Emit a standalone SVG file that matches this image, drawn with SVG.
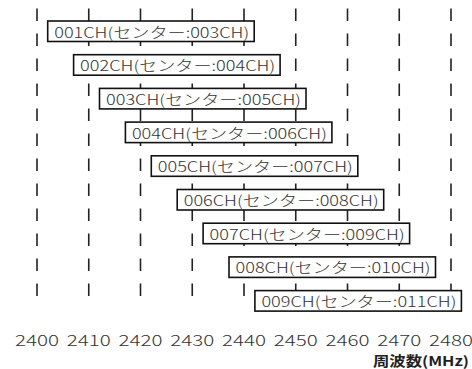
<svg xmlns="http://www.w3.org/2000/svg" width="472" height="369" viewBox="0 0 472 369">
<style>
.grid line{stroke:#222;stroke-width:1.6;stroke-dasharray:12.5 12.5}
.box rect{fill:#fff;stroke:#111;stroke-width:1.6}
.box text{font-family:"Noto Sans CJK JP","Noto Sans",sans-serif;font-size:14.5px;font-weight:300;fill:#333}
.ax{font-family:"Noto Sans CJK JP","Noto Sans",sans-serif;font-size:15.5px;font-weight:300;fill:#333;text-anchor:middle}
.unit{font-family:"Noto Sans CJK JP","Noto Sans",sans-serif;font-size:13.5px;font-weight:bold;fill:#222}
</style>
<rect width="472" height="369" fill="#fff"/>
<g id="connectors" class="grid">
<line x1="37" y1="8.5" x2="37" y2="297"/>
<line x1="88.75" y1="8.5" x2="88.75" y2="297"/>
<line x1="140.5" y1="8.5" x2="140.5" y2="297"/>
<line x1="192.25" y1="8.5" x2="192.25" y2="297"/>
<line x1="244" y1="8.5" x2="244" y2="297"/>
<line x1="295.75" y1="8.5" x2="295.75" y2="297"/>
<line x1="347.5" y1="8.5" x2="347.5" y2="297"/>
<line x1="399.25" y1="8.5" x2="399.25" y2="297"/>
<line x1="451" y1="8.5" x2="451" y2="297"/>
</g>
<g id="ch001" class="box"><rect x="47.7" y="21" width="206.5" height="20.5"/><text x="54.2" y="37.5" textLength="195" lengthAdjust="spacingAndGlyphs">001CH(センター:003CH)</text></g>
<g id="ch002" class="box"><rect x="73.6" y="54.7" width="206.5" height="20.5"/><text x="80.1" y="71.2" textLength="195" lengthAdjust="spacingAndGlyphs">002CH(センター:004CH)</text></g>
<g id="ch003" class="box"><rect x="99.5" y="88.4" width="206.5" height="20.5"/><text x="106" y="104.9" textLength="195" lengthAdjust="spacingAndGlyphs">003CH(センター:005CH)</text></g>
<g id="ch004" class="box"><rect x="125.4" y="122.1" width="206.5" height="20.5"/><text x="131.9" y="138.6" textLength="195" lengthAdjust="spacingAndGlyphs">004CH(センター:006CH)</text></g>
<g id="ch005" class="box"><rect x="151.3" y="155.8" width="206.5" height="20.5"/><text x="157.8" y="172.3" textLength="195" lengthAdjust="spacingAndGlyphs">005CH(センター:007CH)</text></g>
<g id="ch006" class="box"><rect x="177.2" y="189.5" width="206.5" height="20.5"/><text x="183.7" y="206" textLength="195" lengthAdjust="spacingAndGlyphs">006CH(センター:008CH)</text></g>
<g id="ch007" class="box"><rect x="203.1" y="223.2" width="206.5" height="20.5"/><text x="209.6" y="239.7" textLength="195" lengthAdjust="spacingAndGlyphs">007CH(センター:009CH)</text></g>
<g id="ch008" class="box"><rect x="229" y="256.9" width="206.5" height="20.5"/><text x="235.5" y="273.4" textLength="195" lengthAdjust="spacingAndGlyphs">008CH(センター:010CH)</text></g>
<g id="ch009" class="box"><rect x="254.9" y="290.6" width="206.5" height="20.5"/><text x="261.4" y="307.1" textLength="195" lengthAdjust="spacingAndGlyphs">009CH(センター:011CH)</text></g>
<g id="axis">
<text class="ax" x="37" y="346" textLength="44" lengthAdjust="spacingAndGlyphs">2400</text>
<text class="ax" x="88.75" y="346" textLength="44" lengthAdjust="spacingAndGlyphs">2410</text>
<text class="ax" x="140.5" y="346" textLength="44" lengthAdjust="spacingAndGlyphs">2420</text>
<text class="ax" x="192.25" y="346" textLength="44" lengthAdjust="spacingAndGlyphs">2430</text>
<text class="ax" x="244" y="346" textLength="44" lengthAdjust="spacingAndGlyphs">2440</text>
<text class="ax" x="295.75" y="346" textLength="44" lengthAdjust="spacingAndGlyphs">2450</text>
<text class="ax" x="347.5" y="346" textLength="44" lengthAdjust="spacingAndGlyphs">2460</text>
<text class="ax" x="399.25" y="346" textLength="44" lengthAdjust="spacingAndGlyphs">2470</text>
<text class="ax" x="451" y="346" textLength="44" lengthAdjust="spacingAndGlyphs">2480</text>
<text class="unit" x="373" y="365.5" textLength="96" lengthAdjust="spacingAndGlyphs">周波数(MHz)</text>
</g>
</svg>
